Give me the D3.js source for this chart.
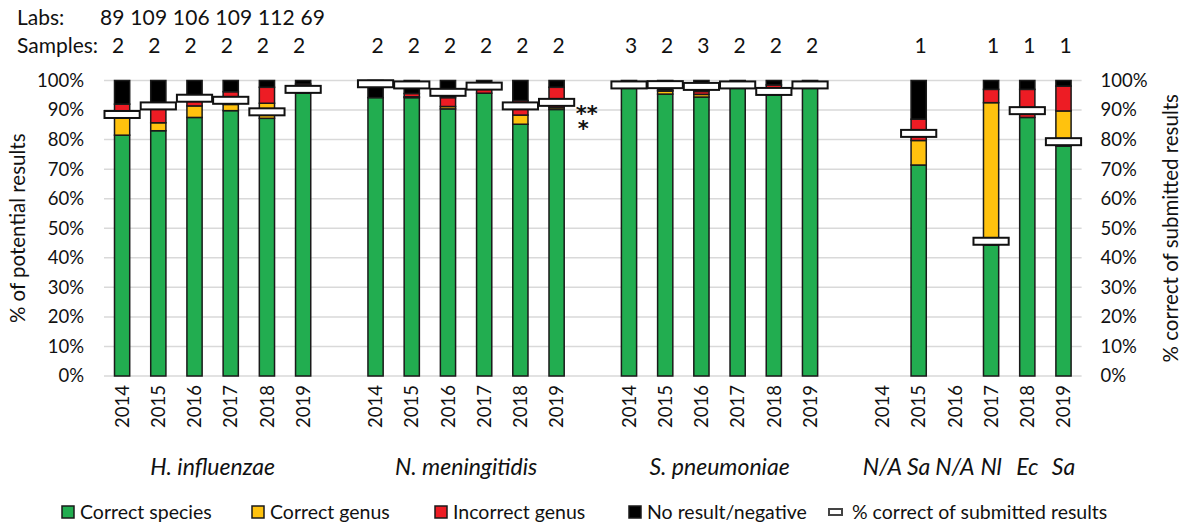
<!DOCTYPE html>
<html>
<head>
<meta charset="utf-8">
<script src="https://cdn.jsdelivr.net/npm/d3@7"></script>
<style>
  html, body { margin: 0; padding: 0; background: #fff; }
  svg { display: block; font-family: Lato, "Open Sans", sans-serif; }
</style>
</head>
<body>
<svg id="chart" width="1190" height="525"></svg>
<script>
// Identification results per organism and year (percent of potential results)
const groups = ["H. influenzae", "N. meningitidis", "S. pneumoniae", "Other"];
const years = ["2014", "2015", "2016", "2017", "2018", "2019"];
const otherOrganisms = ["N/A", "Sa", "N/A", "Nl", "Ec", "Sa"];

const labs = [89, 109, 106, 109, 112, 69];
const samples = [
  2, 2, 2, 2, 2, 2,
  2, 2, 2, 2, 2, 2,
  3, 2, 3, 2, 2, 2,
  null, 1, null, 1, 1, 1
];

const correctSpecies = [
  81.5, 83.0, 87.5, 89.8, 87.2, 95.8,
  94.2, 94.2, 90.4, 95.7, 85.2, 90.2,
  97.8, 95.4, 94.4, 97.8, 95.2, 97.8,
  null, 71.4, null, 44.3, 87.5, 77.8
];
const correctGenus = [
  7.0, 2.7, 3.9, 2.1, 5.1, 0,
  0, 0.3, 0.8, 0, 3.1, 0.6,
  0, 1.0, 0.9, 0, 0, 0,
  null, 8.3, null, 48.2, 0, 11.9
];
const incorrectGenus = [
  3.5, 5.1, 1.7, 4.3, 5.4, 3.0,
  0, 1.1, 3.0, 1.9, 4.9, 6.9,
  0.5, 0.3, 1.0, 0.5, 3.3, 0.3,
  null, 7.2, null, 4.5, 9.5, 8.4
];
const noResult = [
  8.0, 9.2, 6.9, 3.8, 2.3, 1.2,
  5.8, 4.4, 5.8, 2.4, 6.8, 2.3,
  1.7, 3.3, 3.7, 1.7, 1.5, 1.9,
  null, 13.1, null, 3.0, 3.0, 1.9
];
const pctCorrectSubmitted = [
  88.5, 91.4, 94.0, 93.3, 89.4, 97.0,
  98.9, 98.5, 96.0, 98.1, 91.4, 92.6,
  98.5, 98.6, 98.0, 98.5, 96.3, 98.5,
  null, 82.1, null, 45.6, 89.8, 79.3
];

const yTicks = [0, 10, 20, 30, 40, 50, 60, 70, 80, 90, 100];

const seriesKeys = ["species", "genus", "incorrect", "none"];
const seriesNames = ["Correct species", "Correct genus", "Incorrect genus", "No result/negative"];
const seriesColors = ["#22ad50", "#ffc20e", "#ed1c24", "#000000"];

// Build rows and the slot domain (one empty slot between organism groups)
const rows = [];
const slots = [];
groups.forEach((g, gi) => {
  years.forEach((yr, yi) => {
    const i = gi * years.length + yi;
    const key = g + "|" + yr;
    slots.push(key);
    rows.push({
      key, group: g, gi, year: yr, i,
      species: correctSpecies[i] || 0,
      genus: correctGenus[i] || 0,
      incorrect: incorrectGenus[i] || 0,
      none: noResult[i] || 0,
      has: correctSpecies[i] != null,
      marker: pctCorrectSubmitted[i],
      samples: samples[i]
    });
  });
  if (gi < groups.length - 1) slots.push("gap" + gi);
});

const svg = d3.select("#chart");
const plotTop = 80.5, plotBottom = 376, plotLeft = 104, plotRight = 1081.6;

const x = d3.scaleBand().domain(slots).range([plotLeft, plotRight]).padding(0);
const y = d3.scaleLinear().domain([0, 100]).range([plotBottom, plotTop]);
const bw = x.bandwidth();
const barW = bw * 0.42;

// Gridlines
svg.append("g").selectAll("line").data(yTicks).join("line")
  .attr("x1", plotLeft).attr("x2", plotRight)
  .attr("y1", d => y(d)).attr("y2", d => y(d))
  .attr("stroke", "#d9d9d9").attr("stroke-width", 1.5);

// Left and right axes (same percentage scale)
const fmt = d => d + "%";
const leftAxis = svg.append("g").attr("transform", `translate(${plotLeft - 20},0)`)
  .call(d3.axisLeft(y).tickValues(yTicks).tickFormat(fmt).tickSize(0).tickPadding(0));
const rightAxis = svg.append("g").attr("transform", `translate(${plotRight + 19},0)`)
  .call(d3.axisRight(y).tickValues(yTicks).tickFormat(fmt).tickSize(0).tickPadding(0));
[leftAxis, rightAxis].forEach(a => {
  a.select(".domain").remove();
  a.selectAll("text").attr("font-family", "Lato, sans-serif").attr("font-size", 18.5).attr("fill", "#111");
});

// Stacked bars
const stack = d3.stack().keys(seriesKeys);
const stacked = stack(rows.filter(r => r.has));
svg.append("g").selectAll("g").data(stacked).join("g")
  .attr("fill", (d, i) => seriesColors[i])
  .selectAll("rect").data(d => d.filter(s => s[1] - s[0] > 0)).join("rect")
  .attr("x", d => x(d.data.key) + (bw - barW) / 2)
  .attr("width", barW)
  .attr("y", d => y(d[1]))
  .attr("height", d => y(d[0]) - y(d[1]))
  .attr("stroke", "#1a1a1a").attr("stroke-width", 1.5);

// Markers: % correct of submitted results
const mH = 7;
svg.append("g").selectAll("rect").data(rows.filter(r => r.marker != null)).join("rect")
  .attr("x", d => x(d.key) + 0.5)
  .attr("width", bw - 1)
  .attr("y", d => y(d.marker) - mH / 2)
  .attr("height", mH)
  .attr("fill", "#fff").attr("stroke", "#111").attr("stroke-width", 2);

// Asterisks beside N. meningitidis 2019
const nm19 = x("N. meningitidis|2019") + bw;
const ast = svg.append("text").attr("font-family", "DejaVu Sans, sans-serif")
  .attr("font-size", 21).attr("font-weight", "bold").attr("fill", "#111");
ast.append("tspan").attr("x", nm19 + 1).attr("y", y(92.6) + 19).text("**");
ast.append("tspan").attr("x", nm19 + 3).attr("y", y(92.6) + 34).text("*");

// Year labels
svg.append("g").selectAll("text").data(rows).join("text")
  .attr("transform", d => `translate(${x(d.key) + bw / 2},385) rotate(-90)`)
  .attr("text-anchor", "end").attr("dy", "0.36em")
  .attr("font-size", 18.5).attr("fill", "#111")
  .text(d => d.year);

// Group labels
const groupG = svg.append("g").attr("font-size", 23).attr("font-style", "italic").attr("fill", "#111");
groups.slice(0, 3).forEach(g => {
  const cx = (x(g + "|2014") + x(g + "|2019") + bw) / 2;
  groupG.append("text").attr("x", cx).attr("y", 475).attr("text-anchor", "middle").text(g);
});
groupG.selectAll("text.org").data(otherOrganisms).join("text").attr("class", "org")
  .attr("x", (d, i) => x(groups[3] + "|" + years[i]) + bw / 2)
  .attr("y", 475).attr("text-anchor", "middle").text(d => d);

// Header rows: labs and samples
const head = svg.append("g").attr("font-size", 21).attr("fill", "#111");
head.append("text").attr("x", 17).attr("y", 25).text("Labs:");
head.append("text").attr("x", 100).attr("y", 25)
  .attr("textLength", 225).attr("lengthAdjust", "spacing").text(labs.join(" "));
head.append("text").attr("x", 17).attr("y", 53).text("Samples:");
head.selectAll("text.s").data(rows.filter(r => r.samples != null)).join("text").attr("class", "s")
  .attr("x", d => x(d.key) + bw / 2 - (d.gi === 0 ? 4 : -2))
  .attr("y", 53).attr("text-anchor", "middle").text(d => d.samples);

// Axis titles
svg.append("text").attr("transform", `translate(25,${(plotTop + plotBottom) / 2}) rotate(-90)`)
  .attr("text-anchor", "middle").attr("font-size", 20.5).attr("fill", "#111").text("% of potential results");
svg.append("text").attr("transform", `translate(1178,${(plotTop + plotBottom) / 2}) rotate(-90)`)
  .attr("text-anchor", "middle").attr("font-size", 20.5).attr("fill", "#111").text("% correct of submitted results");

// Legend
const legendX = [62, 252, 435, 629];
const leg = svg.append("g").attr("font-size", 19.5).attr("fill", "#111");
seriesNames.forEach((name, i) => {
  leg.append("rect").attr("x", legendX[i]).attr("y", 506).attr("width", 12).attr("height", 12)
    .attr("fill", seriesColors[i]).attr("stroke", "#1a1a1a").attr("stroke-width", 1.5);
  leg.append("text").attr("x", legendX[i] + 18).attr("y", 519).text(name);
});
leg.append("rect").attr("x", 829).attr("y", 509).attr("width", 13).attr("height", 6)
  .attr("fill", "#fff").attr("stroke", "#444").attr("stroke-width", 2);
leg.append("text").attr("x", 852).attr("y", 519).text("% correct of submitted results");
</script>
</body>
</html>
